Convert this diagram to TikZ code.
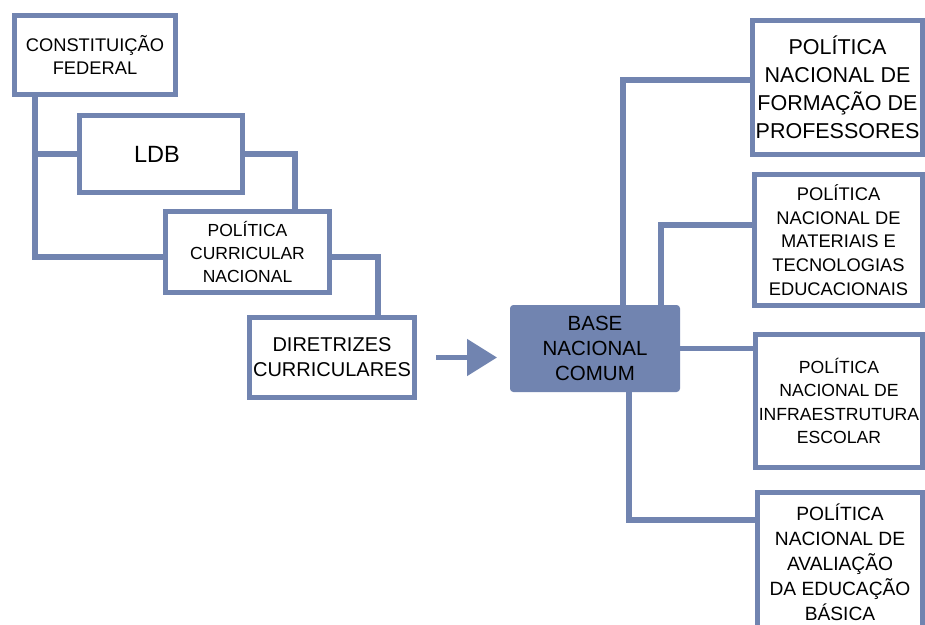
\documentclass[tikz,border=0pt]{standalone}
\usepackage{fontspec}
\setmainfont{Liberation Sans}
\usetikzlibrary{arrows.meta}
\definecolor{mainblue}{RGB}{113,132,176}
\begin{document}
\begin{tikzpicture}[x=1pt,y=-1pt,
  box/.style={draw=mainblue, line width=5pt, fill=white, inner sep=0pt, align=center, text=black},
  conn/.style={draw=mainblue, line width=5.5pt},
  bigarrow/.style={draw=mainblue, line width=5pt, -{Triangle[length=30pt,width=36pt]}},
]
\clip (0,0) rectangle (925,624);
\fill[white] (0,0) rectangle (925,624);

% left chain
\node[box, minimum width=161pt, minimum height=79pt, font=\fontsize{18.3}{23}\selectfont] (CF) at (95,55) {CONSTITUIÇÃO\\FEDERAL};
\node[box, minimum width=163pt, minimum height=77pt, font=\fontsize{23.5}{27}\selectfont] (LDB) at (161,154) {\hspace*{-8pt}LDB};
\node[box, minimum width=164pt, minimum height=81pt, font=\fontsize{17.5}{23}\selectfont] (PCN) at (247.5,252) {POLÍTICA\\CURRICULAR\\NACIONAL};
\node[box, minimum width=165pt, minimum height=80pt, font=\fontsize{20}{25}\selectfont] (DIR) at (332,357.5) {DIRETRIZES\\CURRICULARES};

% central
\node[draw=mainblue, fill=mainblue, line width=1pt, rounded corners=3pt, inner sep=0pt, align=center, text=black,
      minimum width=169pt, minimum height=86pt, font=\fontsize{20.5}{25}\selectfont] (BNC) at (595,348.5) {BASE\\NACIONAL\\COMUM};

% right boxes
\node[box, minimum width=170pt, minimum height=134pt, font=\fontsize{21.5}{28}\selectfont] (F1) at (837.5,87.5) {POLÍTICA\\NACIONAL DE\\FORMAÇÃO DE\\PROFESSORES};
\node[box, minimum width=168pt, minimum height=131pt, font=\fontsize{18.3}{23.7}\selectfont] (F2) at (838.5,240) {POLÍTICA\\NACIONAL DE\\MATERIAIS E\\TECNOLOGIAS\\EDUCACIONAIS};
\node[box, minimum width=167pt, minimum height=133pt, font=\fontsize{17.6}{23.3}\selectfont] (F3) at (839,401) {POLÍTICA\\NACIONAL DE\\INFRAESTRUTURA\\ESCOLAR};
\node[box, minimum width=165pt, minimum height=139pt, font=\fontsize{19.2}{25}\selectfont] (F4) at (840,562) {POLÍTICA\\NACIONAL DE\\AVALIAÇÃO\\DA EDUCAÇÃO\\BÁSICA};

% helper coordinates
\coordinate (a1) at (35,0);
\coordinate (a2) at (0,257);
\coordinate (b1) at (295,0);
\coordinate (c1) at (378,257);
\coordinate (d1) at (623,80);
\coordinate (d2) at (661,225);
\coordinate (d4) at (629,520);

% left connectors
\draw[conn] (CF.south -| a1) |- (LDB.west);
\draw[conn] (CF.south -| a1) |- (PCN.west |- a2);
\draw[conn] (LDB.east) -| (b1 |- PCN.north);
\draw[conn] (PCN.east |- c1) -| (c1 |- DIR.north);

% arrow
\coordinate (as) at ([xshift=19pt]DIR.east);
\coordinate (ae) at ([xshift=-13pt]BNC.west);
\draw[bigarrow] (as) -- (ae |- as);

% right connectors
\draw[conn] (BNC.north -| d1) |- (F1.west |- d1);
\draw[conn] (BNC.north -| d2) |- (F2.west |- d2);
\draw[conn] (BNC.east) -- (F3.west |- BNC.east);
\draw[conn] (BNC.south -| d4) |- (F4.west |- d4);
\end{tikzpicture}
\end{document}
